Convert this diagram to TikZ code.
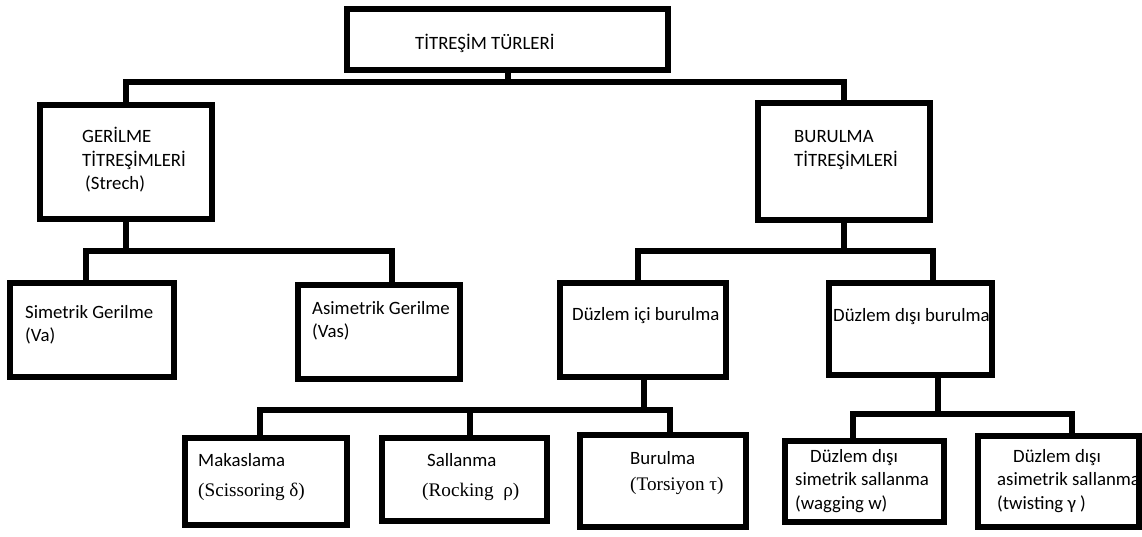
\documentclass[tikz,border=0pt]{standalone}
\usepackage{fontspec}
\setmainfont{Carlito}
\newfontfamily\tmsfont{Liberation Serif}
\usetikzlibrary{positioning}

\begin{document}
\begin{tikzpicture}[x=1pt, y=-1pt,
	box/.style={rectangle, draw=black, line width=6pt, inner sep=0pt},
	txt/.style={anchor=west, inner sep=0pt, align=left, font=\fontsize{18.8}{23.5}\selectfont},
	link/.style={line width=6pt}
	]
	\useasboundingbox (0,0) rectangle (1142,536);

	\node (turler) [box, minimum width=321pt, minimum height=61pt] at (507.5,39.5) {};

		\node (gerilme) [box, minimum width=172pt, minimum height=114pt] at (126,162) {};
		\node (burulma) [box, minimum width=172pt, minimum height=117pt] at (844,161.5) {};

		\node (simetrik) [box, minimum width=164pt, minimum height=94pt] at (92,330) {};
		\node (asimetrik) [box, minimum width=162pt, minimum height=94pt] at (379,332) {};
		\node (ici) [box, minimum width=166pt, minimum height=94pt] at (643,330) {};
		\node (disi) [box, minimum width=163pt, minimum height=92pt] at (910.5,329) {};

		\node (makaslama) [box, minimum width=162pt, minimum height=87pt] at (266,481.5) {};
		\node (sallanma) [box, minimum width=165pt, minimum height=83pt] at (464.5,479.5) {};
		\node (torsiyon) [box, minimum width=166pt, minimum height=92pt] at (663,481) {};
		\node (wagging) [box, minimum width=159pt, minimum height=81pt] at (864.5,481.5) {};
		\node (twisting) [box, minimum width=161pt, minimum height=91pt] at (1058.5,481.5) {};

	% texts
	\node (t turler) [txt] at (415,43) {TİTREŞİM TÜRLERİ};
	\node (t gerilme) [txt] at (82,160) {GERİLME\\TİTREŞİMLERİ\\\hspace{3pt}(Strech)};
	\node (t burulma) [txt] at (794,150) {BURULMA\\TİTREŞİMLERİ};
	\node (t simetrik) [txt] at (25,325) {Simetrik Gerilme\\(Va)};
	\node (t asimetrik) [txt] at (312,321) {Asimetrik Gerilme\\(Vas)};
	\node (t ici) [txt] at (572,316) {Düzlem içi burulma};
	\node (t disi) [txt] at (833,317) {Düzlem dışı burulma};
	\node (t makaslama) [txt] at (198,477) {Makaslama\\[6pt]{\tmsfont\fontsize{19.2}{23}\selectfont (Scissoring δ)}};
	\node (t sallanma) [txt] at (422,477) {\hspace{5pt}Sallanma\\[6pt]{\tmsfont\fontsize{19.2}{23}\selectfont (Rocking~ ρ)}};
	\node (t torsiyon) [txt] at (630,473) {Burulma\\[2pt]{\tmsfont\fontsize{19.2}{23}\selectfont (Torsiyon τ)}};
	\node (t wagging) [txt] at (795,481) {\hspace{15pt}Düzlem dışı\\simetrik sallanma\\(wagging w)};
	\node (t twisting) [txt] at (997,481) {\hspace{16pt}Düzlem dışı\\asimetrik sallanma\\(twisting γ )};

	\draw [link] (turler.south)--++(0,9)-| (gerilme.north);
	\draw [link] (turler.south)--++(0,9)-| (burulma.north);

	\draw [link] (gerilme.south)--++(0,29)-| ([xshift=-6pt]simetrik.north);
	\draw [link] (gerilme.south)--++(0,29)-| ([xshift=13pt]asimetrik.north);
	\draw [link] (burulma.south)--++(0,28)-| ([xshift=-5pt]ici.north);
	\draw [link] (burulma.south)--++(0,28)-| ([xshift=22pt]disi.north);

	\draw [link] ([xshift=1pt]ici.south)--++(0,30)-| ([xshift=-6pt]makaslama.north);
	\draw [link] ([xshift=1pt]ici.south)--++(0,30)-| ([xshift=5.5pt]sallanma.north);
	\draw [link] ([xshift=1pt]ici.south)--++(0,30)-| ([xshift=7pt]torsiyon.north);
	\draw [link] ([xshift=27.5pt]disi.south)--++(0,36)-| ([xshift=-11.5pt]wagging.north);
	\draw [link] ([xshift=27.5pt]disi.south)--++(0,36)-| ([xshift=13.5pt]twisting.north);

	\end{tikzpicture}
\end{document}
